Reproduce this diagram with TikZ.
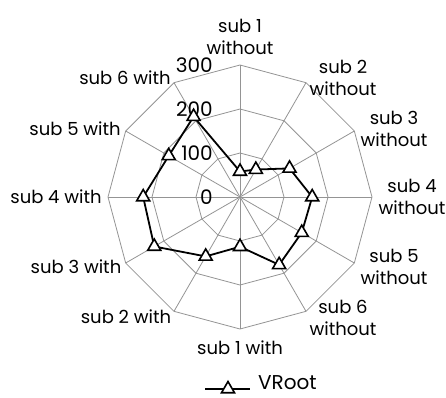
\documentclass[tikz,border=0pt]{standalone}
\usepackage{fontspec}
\setmainfont{Poppins}
\usetikzlibrary{shapes.geometric}

\tikzset{
  grid line/.style={draw=black!42, line width=0.8pt},
  axis name/.style={align=center, inner sep=0pt, font=\fontsize{18}{22}\selectfont},
  value label/.style={anchor=east, inner sep=0pt, font=\fontsize{20}{22}\selectfont},
  data line/.style={line width=1.8pt, line join=round},
  tri mark/.style={regular polygon, regular polygon sides=3, draw, fill=white,
    line width=1.6pt, minimum size=15pt, inner sep=0pt},
}

\begin{document}
\begin{tikzpicture}[x=1pt,y=1pt]
    \useasboundingbox (-240,-200) rectangle (206,197);

    % web
    \coordinate (o) at (0,0);
    \foreach \r in {44,88,132} {
        \draw[grid line] (90:\r) \foreach \a in {60,30,...,-240} { -- (\a:\r) } -- cycle;
    }
    \foreach \a in {90,60,...,-240} \draw[grid line] (o) -- (\a:132);

    % axis names
    \node[axis name] (s1o) at (0,160) {sub 1\\without};
    \node[axis name] (s2o) at (103,119) {sub 2\\without};
    \node[axis name] (s3o) at (154,68) {sub 3\\without};
    \node[axis name] (s4o) at (172,0) {sub 4\\without};
    \node[axis name] (s5o) at (154,-70) {sub 5\\without};
    \node[axis name] (s6o) at (103,-121) {sub 6\\without};
    \node[axis name] (s1w) at (0,-151) {sub 1 with};
    \node[axis name] (s2w) at (-114,-120) {sub 2 with};
    \node[axis name] (s3w) at (-164,-70) {sub 3 with};
    \node[axis name] (s4w) at (-184,0) {sub 4 with};
    \node[axis name] (s5w) at (-165,68) {sub 5 with};
    \node[axis name] (s6w) at (-115,119) {sub 6 with};

    % values
    \node[value label] (v0) at (-27,0) {0};
    \node[value label] (v1) at (-27,44) {100};
    \node[value label] (v2) at (-27,88) {200};
    \node[value label] (v3) at (-27,132) {300};

    % VRoot data
    \coordinate (d1) at (90:25.5);
    \coordinate (d2) at (60:31.7);
    \coordinate (d3) at (30:57.2);
    \coordinate (d4) at (0:72.2);
    \coordinate (d5) at (-30:71.3);
    \coordinate (d6) at (-60:78.3);
    \coordinate (d7) at (-90:49.7);
    \coordinate (d8) at (-120:68.6);
    \coordinate (d9) at (-150:99);
    \coordinate (d10) at (180:96.8);
    \coordinate (d11) at (150:82.3);
    \coordinate (d12) at (120:92.8);
    \draw[data line] (d1) -- (d2) -- (d3) -- (d4) -- (d5) -- (d6) -- (d7)
        -- (d8) -- (d9) -- (d10) -- (d11) -- (d12) -- cycle;
    \foreach \i in {1,...,12} \node[tri mark] (m\i) at (d\i) {};

    % legend
    \coordinate (la) at (-35,-192);
    \coordinate (lb) at (10,-192);
    \draw[data line] (la) -- (lb);
    \node[tri mark] (lm) at (-12,-192) {};
    \node[anchor=north west, inner sep=0pt, font=\fontsize{20}{22}\selectfont] (leg) at (18,-178) {VRoot};
\end{tikzpicture}
\end{document}
